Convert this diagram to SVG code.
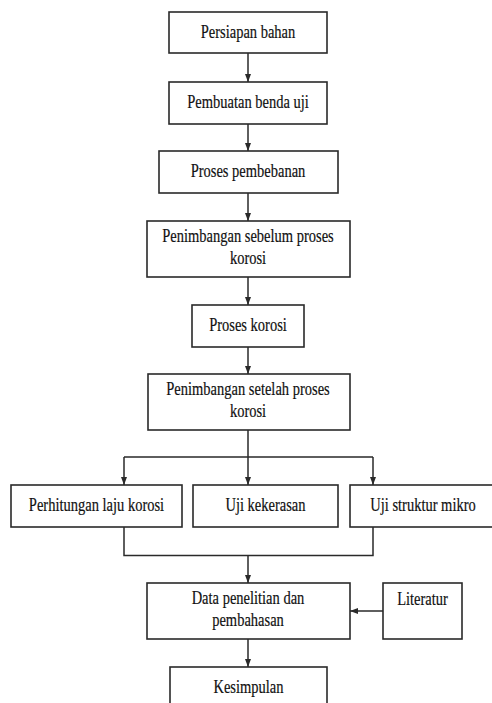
<svg xmlns="http://www.w3.org/2000/svg" width="492" height="703" viewBox="0 0 492 703">
<style>
.box{fill:#fff;stroke:#2a2a2a;stroke-width:1.6}
.ln{fill:none;stroke:#2a2a2a;stroke-width:1.5}
text{font-family:'Liberation Serif','Times New Roman',Times,serif;font-size:14.5px;text-anchor:middle;fill:#111;stroke:#111;stroke-width:0.15}
</style>
<defs>
<marker id="ah" viewBox="0 0 8 8" refX="8" refY="4" markerWidth="8" markerHeight="8" orient="auto" markerUnits="userSpaceOnUse">
<path d="M0,1 L8,4 L0,7 z" fill="#2a2a2a"/>
</marker>
</defs>
<rect width="492" height="703" fill="#fff"/>
<g id="connectors">
<line class="ln" x1="248" y1="53" x2="248" y2="82" marker-end="url(#ah)"/>
<line class="ln" x1="248" y1="124" x2="248" y2="151" marker-end="url(#ah)"/>
<line class="ln" x1="248" y1="193" x2="248" y2="221" marker-end="url(#ah)"/>
<line class="ln" x1="248" y1="277" x2="248" y2="305" marker-end="url(#ah)"/>
<line class="ln" x1="248" y1="347" x2="248" y2="374" marker-end="url(#ah)"/>
<path class="ln" d="M248,430 V457 M124,457 H373"/>
<line class="ln" x1="124" y1="457" x2="124" y2="485" marker-end="url(#ah)"/>
<line class="ln" x1="248" y1="457" x2="248" y2="485" marker-end="url(#ah)"/>
<line class="ln" x1="373" y1="457" x2="373" y2="485" marker-end="url(#ah)"/>
<path class="ln" d="M124,527 V555.5 H373 V527"/>
<line class="ln" x1="248" y1="555.5" x2="248" y2="583" marker-end="url(#ah)"/>
<line class="ln" x1="383" y1="611" x2="350" y2="611" marker-end="url(#ah)"/>
<line class="ln" x1="248" y1="639" x2="248" y2="667" marker-end="url(#ah)"/>
</g>
<g id="n1"><rect class="box" x="169" y="12" width="158" height="41"/><text transform="translate(248,38) scale(1,1.35)">Persiapan bahan</text></g>
<g id="n2"><rect class="box" x="169" y="82" width="158" height="42"/><text transform="translate(248,108) scale(1,1.35)">Pembuatan benda uji</text></g>
<g id="n3"><rect class="box" x="159" y="151" width="179" height="42"/><text transform="translate(248,177) scale(1,1.35)">Proses pembebanan</text></g>
<g id="n4"><rect class="box" x="147" y="221" width="203" height="56"/><text transform="translate(248,242) scale(1,1.35)">Penimbangan sebelum proses</text><text transform="translate(248,264) scale(1,1.35)">korosi</text></g>
<g id="n5"><rect class="box" x="192" y="305" width="112" height="42"/><text transform="translate(248,331) scale(1,1.35)">Proses korosi</text></g>
<g id="n6"><rect class="box" x="148" y="374" width="202" height="56"/><text transform="translate(248,395) scale(1,1.35)">Penimbangan setelah proses</text><text transform="translate(248,417) scale(1,1.35)">korosi</text></g>
<g id="n7"><rect class="box" x="11" y="485" width="171" height="42"/><text transform="translate(96.5,511) scale(1,1.35)">Perhitungan laju korosi</text></g>
<g id="n8"><rect class="box" x="193" y="485" width="145" height="42"/><text transform="translate(265.5,511) scale(1,1.35)">Uji kekerasan</text></g>
<g id="n9"><rect class="box" x="350" y="485" width="146" height="42"/><text transform="translate(423,511) scale(1,1.35)">Uji struktur mikro</text></g>
<g id="n10"><rect class="box" x="147" y="583" width="203" height="56"/><text transform="translate(248,604) scale(1,1.35)">Data penelitian dan</text><text transform="translate(248,626) scale(1,1.35)">pembahasan</text></g>
<g id="n11"><rect class="box" x="383" y="583" width="79" height="56"/><text transform="translate(422.5,605) scale(1,1.35)">Literatur</text></g>
<g id="n12"><rect class="box" x="170" y="667" width="157" height="50"/><text transform="translate(248.5,693) scale(1,1.35)">Kesimpulan</text></g>
</svg>
